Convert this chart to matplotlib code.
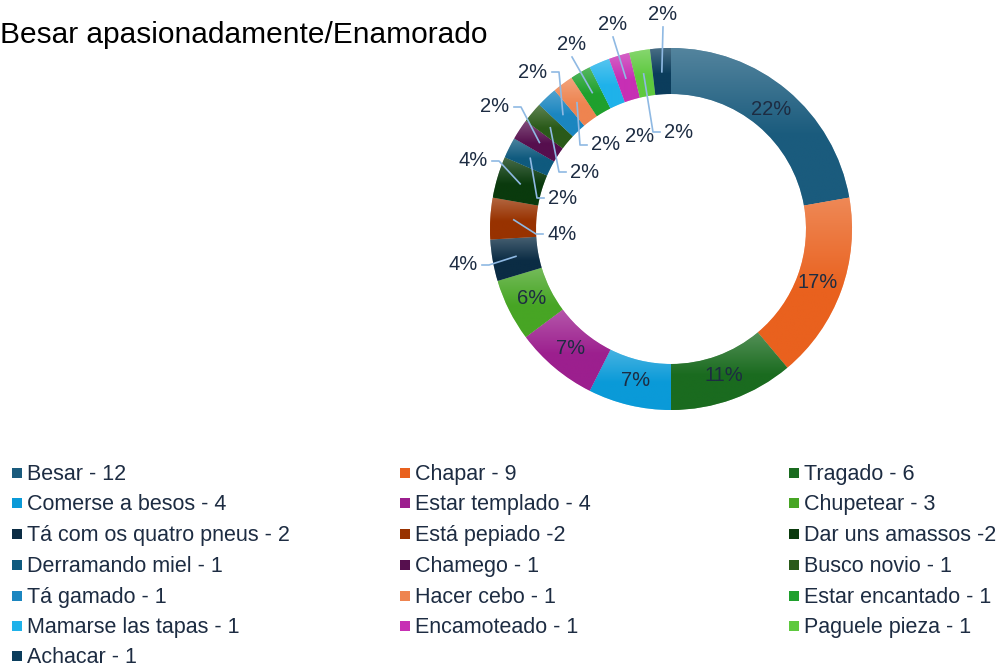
import numpy as np
import matplotlib.pyplot as plt
import matplotlib.colors as mcolors
from matplotlib.patches import Rectangle

names = ["Besar", "Chapar", "Tragado", "Comerse a besos", "Estar templado",
         "Chupetear", "Tá com os quatro pneus", "Está pepiado", "Dar uns amassos",
         "Derramando miel", "Chamego", "Busco novio", "Tá gamado", "Hacer cebo",
         "Estar encantado", "Mamarse las tapas", "Encamoteado", "Paguele pieza",
         "Achacar"]
counts = [12, 9, 6, 4, 4, 3, 2, 2, 2, 1, 1, 1, 1, 1, 1, 1, 1, 1, 1]
legend_labels = ["Besar - 12", "Chapar - 9", "Tragado - 6", "Comerse a besos - 4",
                 "Estar templado - 4", "Chupetear - 3", "Tá com os quatro pneus - 2",
                 "Está pepiado -2", "Dar uns amassos -2", "Derramando miel - 1",
                 "Chamego - 1", "Busco novio - 1", "Tá gamado - 1", "Hacer cebo - 1",
                 "Estar encantado - 1", "Mamarse las tapas - 1", "Encamoteado - 1",
                 "Paguele pieza - 1", "Achacar - 1"]
colors = ["#1a5b7d", "#e9611e", "#1a6b1f", "#0a9ad8", "#9c1f8e", "#47a524",
          "#0b2c44", "#983200", "#0a3a0d", "#0f5a7e", "#560f4e", "#2a5a19",
          "#1b86c0", "#ee8450", "#1fa02d", "#1fb2ea", "#c72fb4", "#5ec93f",
          "#0b3d5c"]
title = "Besar apasionadamente/Enamorado"

# outside label placement (pixel coords) and leader side
outside = {6: (463, 265, "r"), 7: (562, 234, "l"), 8: (473, 161, "r"),
           9: (563, 198, "l"), 10: (495, 107, "r"), 11: (585, 172, "l"),
           12: (533, 72, "r"), 13: (606, 145, "l"), 14: (572, 45, "b"),
           15: (640, 136, None), 16: (613, 25, "b"), 17: (679, 132, "l"),
           18: (663, 15, "b")}

W, H = 1005, 668
font = "Liberation Sans"
text_color = "#1d2c42"

fig = plt.figure(figsize=(W / 100, H / 100), dpi=100)
ax = fig.add_axes([0, 0, 1, 1])

cx, cy, R, ring = 671, H - 229, 181, 46
wedges, _ = ax.pie(counts, colors=colors, startangle=90, counterclock=False,
                   center=(cx, cy), radius=R,
                   wedgeprops=dict(width=ring, edgecolor="white", linewidth=0.3))
ax.set_aspect("equal")
ax.axis("off")

# soft top-lit gradient on each wedge
for w, c in zip(wedges, colors):
    base = np.array(mcolors.to_rgb(c))
    light = base + (1 - base) * 0.25
    bb = w.get_path().get_extents(w.get_transform())
    bb = ax.transData.inverted().transform(bb.get_points())
    (x0, y0), (x1, y1) = bb
    t = np.linspace(0, 1, 100)[:, None]
    k = np.clip(t / 0.55, 0, 1)
    grad = light * (1 - k) + base * k
    img = np.repeat(grad[:, None, :], 2, axis=1)
    im = ax.imshow(img, extent=(x0, x1, y0, y1), origin="upper",
                   aspect="auto", zorder=w.get_zorder(), interpolation="bilinear")
    im.set_clip_path(w)
ax.set_xlim(0, W)
ax.set_ylim(0, H)

total = sum(counts)
cum = 0
for i, v in enumerate(counts):
    mid = 90 - (cum + v / 2) / total * 360
    cum += v
    pct = f"{round(v / total * 100)}%"
    a = np.deg2rad(mid)
    if i not in outside:
        r = 0.86 * R
        ax.text(cx + r * np.cos(a), cy + r * np.sin(a), pct, ha="center", va="center",
                fontsize=14.5, color=text_color, family=font, zorder=5)
        continue
    lx, ly, side = outside[i]
    ly = H - ly
    ax.text(lx, ly, pct, ha="center", va="center", fontsize=14.5,
            color=text_color, family=font, zorder=5)
    if side is None:
        continue
    r = 0.87 * R
    axp, ayp = cx + r * np.cos(a), cy + r * np.sin(a)
    if side == "r":
        xs, ys = [lx + 19, lx + 26, axp], [ly, ly, ayp]
    elif side == "l":
        xs, ys = [lx - 19, lx - 26, axp], [ly, ly, ayp]
    else:
        xs, ys = [lx, axp], [ly - 12, ayp]
    ax.plot(xs, ys, color="#8fb9e3", lw=1.2, zorder=4, clip_on=False)

ax.text(0, H - 43, title, fontsize=21.5, family=font, color="black",
        ha="left", va="baseline")

# legend, filled row by row in three columns (baselines in pixels)
col_x = [12, 400, 789]
row_base = [480, 510, 541, 572, 603, 633, 663]
for i, (lab, c) in enumerate(zip(legend_labels, colors)):
    x = col_x[i % 3]
    yb = H - row_base[i // 3]
    ax.add_patch(Rectangle((x, yb + 2), 10, 10, facecolor=c, edgecolor="none"))
    ax.text(x + 15, yb, lab, fontsize=15.5, family=font, color=text_color,
            ha="left", va="baseline")

fig.savefig("out.png", dpi=100)
